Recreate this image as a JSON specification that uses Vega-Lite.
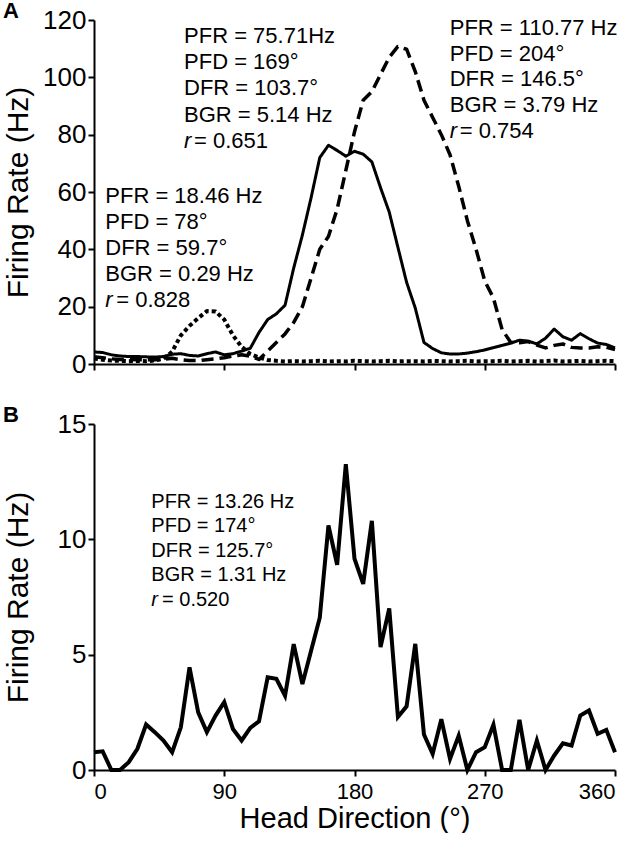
{
  "$schema": "https://vega.github.io/schema/vega-lite/v6.json",
  "padding": {"left": 3, "top": 0, "right": 0, "bottom": 0},
  "background": "white",
  "spacing": 27,
  "config": {
    "font": "Liberation Sans",
    "view": {"stroke": null},
    "axis": {"domainColor": "black", "domainWidth": 2, "tickColor": "black", "tickWidth": 2, "tickSize": 6, "grid": false, "labelColor": "black", "titleColor": "black", "labelFont": "Liberation Sans", "titleFont": "Liberation Sans", "titleFontWeight": "normal"}
  },
  "datasets": {
    "curvesA": [
      {"deg": 0, "solid": 4.2, "dashed": 2.5, "dotted": 1.9},
      {"deg": 6, "solid": 4.0, "dashed": 2.2, "dotted": 1.5},
      {"deg": 12, "solid": 3.2, "dashed": 1.8, "dotted": 1.2},
      {"deg": 18, "solid": 2.8, "dashed": 1.6, "dotted": 1.1},
      {"deg": 24, "solid": 2.6, "dashed": 1.6, "dotted": 1.0},
      {"deg": 30, "solid": 2.6, "dashed": 1.5, "dotted": 1.1},
      {"deg": 36, "solid": 2.5, "dashed": 1.5, "dotted": 1.0},
      {"deg": 42, "solid": 2.4, "dashed": 1.5, "dotted": 1.2},
      {"deg": 48, "solid": 2.6, "dashed": 1.6, "dotted": 1.8},
      {"deg": 54, "solid": 3.4, "dashed": 2.0, "dotted": 4.3},
      {"deg": 60, "solid": 3.6, "dashed": 1.5, "dotted": 10.0},
      {"deg": 66, "solid": 3.0, "dashed": 1.2, "dotted": 13.3},
      {"deg": 72, "solid": 2.8, "dashed": 1.2, "dotted": 16.0},
      {"deg": 78, "solid": 3.6, "dashed": 1.5, "dotted": 18.46},
      {"deg": 84, "solid": 4.2, "dashed": 1.8, "dotted": 18.3},
      {"deg": 90, "solid": 3.2, "dashed": 2.2, "dotted": 15.5},
      {"deg": 96, "solid": 3.6, "dashed": 2.8, "dotted": 10.0},
      {"deg": 102, "solid": 4.5, "dashed": 3.2, "dotted": 6.0},
      {"deg": 108, "solid": 5.5, "dashed": 2.7, "dotted": 3.5},
      {"deg": 114, "solid": 11.0, "dashed": 1.6, "dotted": 2.3},
      {"deg": 120, "solid": 15.5, "dashed": 4.5, "dotted": 1.4},
      {"deg": 126, "solid": 17.5, "dashed": 7.5, "dotted": 1.1},
      {"deg": 132, "solid": 20.5, "dashed": 10.5, "dotted": 0.9},
      {"deg": 138, "solid": 33.5, "dashed": 14.5, "dotted": 1.0},
      {"deg": 144, "solid": 45.0, "dashed": 20.0, "dotted": 0.9},
      {"deg": 150, "solid": 58.0, "dashed": 30.0, "dotted": 1.0},
      {"deg": 156, "solid": 72.0, "dashed": 40.0, "dotted": 1.1},
      {"deg": 162, "solid": 76.3, "dashed": 44.5, "dotted": 0.9},
      {"deg": 168, "solid": 74.5, "dashed": 54.0, "dotted": 1.0},
      {"deg": 174, "solid": 72.5, "dashed": 67.5, "dotted": 0.9},
      {"deg": 180, "solid": 74.2, "dashed": 81.0, "dotted": 1.1},
      {"deg": 186, "solid": 73.2, "dashed": 92.0, "dotted": 1.0},
      {"deg": 192, "solid": 70.5, "dashed": 95.0, "dotted": 0.9},
      {"deg": 198, "solid": 61.5, "dashed": 101.0, "dotted": 1.0},
      {"deg": 204, "solid": 53.0, "dashed": 107.0, "dotted": 1.1},
      {"deg": 210, "solid": 40.7, "dashed": 110.77, "dotted": 0.9},
      {"deg": 216, "solid": 28.5, "dashed": 109.8, "dotted": 1.0},
      {"deg": 222, "solid": 19.5, "dashed": 102.0, "dotted": 1.0},
      {"deg": 228, "solid": 7.5, "dashed": 92.0, "dotted": 0.9},
      {"deg": 234, "solid": 5.4, "dashed": 86.0, "dotted": 1.1},
      {"deg": 240, "solid": 3.9, "dashed": 80.0, "dotted": 1.0},
      {"deg": 246, "solid": 3.5, "dashed": 73.0, "dotted": 0.9},
      {"deg": 252, "solid": 3.5, "dashed": 62.0, "dotted": 1.0},
      {"deg": 258, "solid": 3.8, "dashed": 50.0, "dotted": 1.1},
      {"deg": 264, "solid": 4.3, "dashed": 40.0, "dotted": 0.9},
      {"deg": 270, "solid": 4.9, "dashed": 29.0, "dotted": 1.0},
      {"deg": 276, "solid": 5.7, "dashed": 23.0, "dotted": 1.0},
      {"deg": 282, "solid": 6.5, "dashed": 12.0, "dotted": 1.1},
      {"deg": 288, "solid": 7.3, "dashed": 7.5, "dotted": 0.9},
      {"deg": 294, "solid": 8.3, "dashed": 7.4, "dotted": 1.0},
      {"deg": 300, "solid": 8.0, "dashed": 7.8, "dotted": 1.1},
      {"deg": 306, "solid": 7.0, "dashed": 6.6, "dotted": 0.9},
      {"deg": 312, "solid": 9.0, "dashed": 5.6, "dotted": 1.0},
      {"deg": 318, "solid": 12.2, "dashed": 6.5, "dotted": 1.2},
      {"deg": 324, "solid": 9.5, "dashed": 7.0, "dotted": 0.9},
      {"deg": 330, "solid": 8.3, "dashed": 5.8, "dotted": 1.0},
      {"deg": 336, "solid": 10.6, "dashed": 5.6, "dotted": 1.1},
      {"deg": 342, "solid": 8.8, "dashed": 5.6, "dotted": 0.9},
      {"deg": 348, "solid": 7.3, "dashed": 6.0, "dotted": 1.0},
      {"deg": 354, "solid": 6.8, "dashed": 5.8, "dotted": 1.1},
      {"deg": 360, "solid": 5.6, "dashed": 5.0, "dotted": 1.0}
    ],
    "annA": [
      {"deg": 62.2, "rate": 111.96, "label": "PFR = 75.71Hz"},
      {"deg": 62.2, "rate": 102.8, "label": "PFD = 169°"},
      {"deg": 62.2, "rate": 93.7, "label": "DFR = 103.7°"},
      {"deg": 62.2, "rate": 84.5, "label": "BGR = 5.14 Hz"},
      {"deg": 69.1, "rate": 75.4, "label": "= 0.651"},
      {"deg": 7.8, "rate": 56.2, "label": "PFR = 18.46 Hz"},
      {"deg": 7.8, "rate": 47.1, "label": "PFD = 78°"},
      {"deg": 7.8, "rate": 38.0, "label": "DFR = 59.7°"},
      {"deg": 7.8, "rate": 29.0, "label": "BGR = 0.29 Hz"},
      {"deg": 15.4, "rate": 19.9, "label": "= 0.828"},
      {"deg": 245.8, "rate": 114.9, "label": "PFR = 110.77 Hz"},
      {"deg": 245.8, "rate": 105.8, "label": "PFD = 204°"},
      {"deg": 245.8, "rate": 96.9, "label": "DFR = 146.5°"},
      {"deg": 245.8, "rate": 87.8, "label": "BGR = 3.79 Hz"},
      {"deg": 252.7, "rate": 78.8, "label": "= 0.754"}
    ],
    "annAr": [
      {"deg": 62.2, "rate": 75.4, "label": "r"},
      {"deg": 7.8, "rate": 19.9, "label": "r"},
      {"deg": 245.8, "rate": 78.8, "label": "r"}
    ],
    "curveB": [
      {"deg": 0, "rate": 0.77}, {"deg": 6, "rate": 0.81}, {"deg": 12, "rate": 0}, {"deg": 18, "rate": 0},
      {"deg": 24, "rate": 0.34}, {"deg": 30, "rate": 0.92}, {"deg": 36, "rate": 1.97}, {"deg": 42, "rate": 1.64},
      {"deg": 48, "rate": 1.28}, {"deg": 54, "rate": 0.77}, {"deg": 60, "rate": 1.85}, {"deg": 66, "rate": 4.45},
      {"deg": 72, "rate": 2.5}, {"deg": 78, "rate": 1.64}, {"deg": 84, "rate": 2.36}, {"deg": 90, "rate": 2.94},
      {"deg": 96, "rate": 1.78}, {"deg": 102, "rate": 1.28}, {"deg": 108, "rate": 1.83}, {"deg": 114, "rate": 2.11},
      {"deg": 120, "rate": 4.02}, {"deg": 126, "rate": 3.95}, {"deg": 132, "rate": 3.22}, {"deg": 138, "rate": 5.46},
      {"deg": 144, "rate": 3.73}, {"deg": 150, "rate": 5.17}, {"deg": 156, "rate": 6.6}, {"deg": 162, "rate": 10.6},
      {"deg": 168, "rate": 8.9}, {"deg": 174, "rate": 13.26}, {"deg": 180, "rate": 9.16}, {"deg": 186, "rate": 8.07},
      {"deg": 192, "rate": 10.8}, {"deg": 198, "rate": 5.33}, {"deg": 204, "rate": 7.0}, {"deg": 210, "rate": 2.3},
      {"deg": 216, "rate": 2.76}, {"deg": 222, "rate": 5.47}, {"deg": 228, "rate": 1.54}, {"deg": 234, "rate": 0.7},
      {"deg": 240, "rate": 2.2}, {"deg": 246, "rate": 0.48}, {"deg": 252, "rate": 1.49}, {"deg": 258, "rate": 0},
      {"deg": 264, "rate": 0.77}, {"deg": 270, "rate": 0.99}, {"deg": 276, "rate": 1.96}, {"deg": 282, "rate": 0},
      {"deg": 288, "rate": 0}, {"deg": 294, "rate": 2.17}, {"deg": 300, "rate": 0}, {"deg": 306, "rate": 1.28},
      {"deg": 312, "rate": 0}, {"deg": 318, "rate": 0.63}, {"deg": 324, "rate": 1.16}, {"deg": 330, "rate": 1.06},
      {"deg": 336, "rate": 2.36}, {"deg": 342, "rate": 2.58}, {"deg": 348, "rate": 1.57}, {"deg": 354, "rate": 1.74},
      {"deg": 360, "rate": 0.77}
    ],
    "annB": [
      {"deg": 39.6, "rate": 11.38, "label": "PFR = 13.26 Hz"},
      {"deg": 39.6, "rate": 10.31, "label": "PFD = 174°"},
      {"deg": 39.6, "rate": 9.25, "label": "DFR = 125.7°"},
      {"deg": 39.6, "rate": 8.18, "label": "BGR = 1.31 Hz"},
      {"deg": 47.0, "rate": 7.12, "label": "= 0.520"}
    ],
    "annBr": [
      {"deg": 39.6, "rate": 7.12, "label": "r"}
    ]
  },
  "vconcat": [
    {
      "width": 521,
      "height": 344,
      "title": {"text": "A", "anchor": "start", "frame": "bounds", "fontSize": 22, "fontWeight": "bold", "font": "Liberation Sans", "offset": -16, "color": "black"},
      "layer": [
        {
          "data": {"name": "curvesA"},
          "transform": [{"fold": ["dotted", "dashed", "solid"], "as": ["cell", "rate"]}],
          "mark": {"type": "line", "color": "black", "strokeCap": "butt", "strokeJoin": "round"},
          "encoding": {
            "x": {"field": "deg", "type": "quantitative", "scale": {"domain": [0, 360], "nice": false},
                  "axis": {"values": [0, 90, 180, 270, 360], "labels": false, "title": null}},
            "y": {"field": "rate", "type": "quantitative", "scale": {"domain": [0, 120], "nice": false},
                  "axis": {"values": [0, 20, 40, 60, 80, 100, 120], "title": "Firing Rate (Hz)", "labelFontSize": 26, "titleFontSize": 30, "titlePadding": 8, "labelPadding": 2, "minExtent": 53, "maxExtent": 53}},
            "strokeDash": {"field": "cell", "type": "nominal", "scale": {"domain": ["solid", "dashed", "dotted"], "range": [[1, 0], [12, 6], [4, 3]]}, "legend": null},
            "strokeWidth": {"field": "cell", "type": "nominal", "scale": {"domain": ["solid", "dashed", "dotted"], "range": [3, 4, 4]}, "legend": null}
          }
        },
        {
          "data": {"name": "annA"},
          "mark": {"type": "text", "align": "left", "baseline": "alphabetic", "fontSize": 22, "color": "black"},
          "encoding": {
            "x": {"field": "deg", "type": "quantitative"},
            "y": {"field": "rate", "type": "quantitative"},
            "text": {"field": "label"}
          }
        },
        {
          "data": {"name": "annAr"},
          "mark": {"type": "text", "align": "left", "baseline": "alphabetic", "fontSize": 22, "fontStyle": "italic", "color": "black"},
          "encoding": {
            "x": {"field": "deg", "type": "quantitative"},
            "y": {"field": "rate", "type": "quantitative"},
            "text": {"field": "label"}
          }
        }
      ]
    },
    {
      "width": 521,
      "height": 346,
      "title": {"text": "B", "anchor": "start", "frame": "bounds", "fontSize": 22, "fontWeight": "bold", "font": "Liberation Sans", "offset": -16, "color": "black"},
      "layer": [
        {
          "data": {"name": "curveB"},
          "mark": {"type": "line", "color": "black", "strokeWidth": 4, "strokeJoin": "miter"},
          "encoding": {
            "x": {"field": "deg", "type": "quantitative", "scale": {"domain": [0, 360], "nice": false},
                  "axis": {"values": [0, 90, 180, 270, 360], "title": "Head Direction (°)", "labelFontSize": 22, "labelPadding": 5, "titleFontSize": 29, "titlePadding": 2}},
            "y": {"field": "rate", "type": "quantitative", "scale": {"domain": [0, 15], "nice": false},
                  "axis": {"values": [0, 5, 10, 15], "title": "Firing Rate (Hz)", "labelFontSize": 26, "titleFontSize": 30, "titlePadding": 8, "labelPadding": 2, "minExtent": 53, "maxExtent": 53}}
          }
        },
        {
          "data": {"name": "annB"},
          "mark": {"type": "text", "align": "left", "baseline": "alphabetic", "fontSize": 20, "color": "black"},
          "encoding": {
            "x": {"field": "deg", "type": "quantitative"},
            "y": {"field": "rate", "type": "quantitative"},
            "text": {"field": "label"}
          }
        },
        {
          "data": {"name": "annBr"},
          "mark": {"type": "text", "align": "left", "baseline": "alphabetic", "fontSize": 20, "fontStyle": "italic", "color": "black"},
          "encoding": {
            "x": {"field": "deg", "type": "quantitative"},
            "y": {"field": "rate", "type": "quantitative"},
            "text": {"field": "label"}
          }
        }
      ]
    }
  ]
}
